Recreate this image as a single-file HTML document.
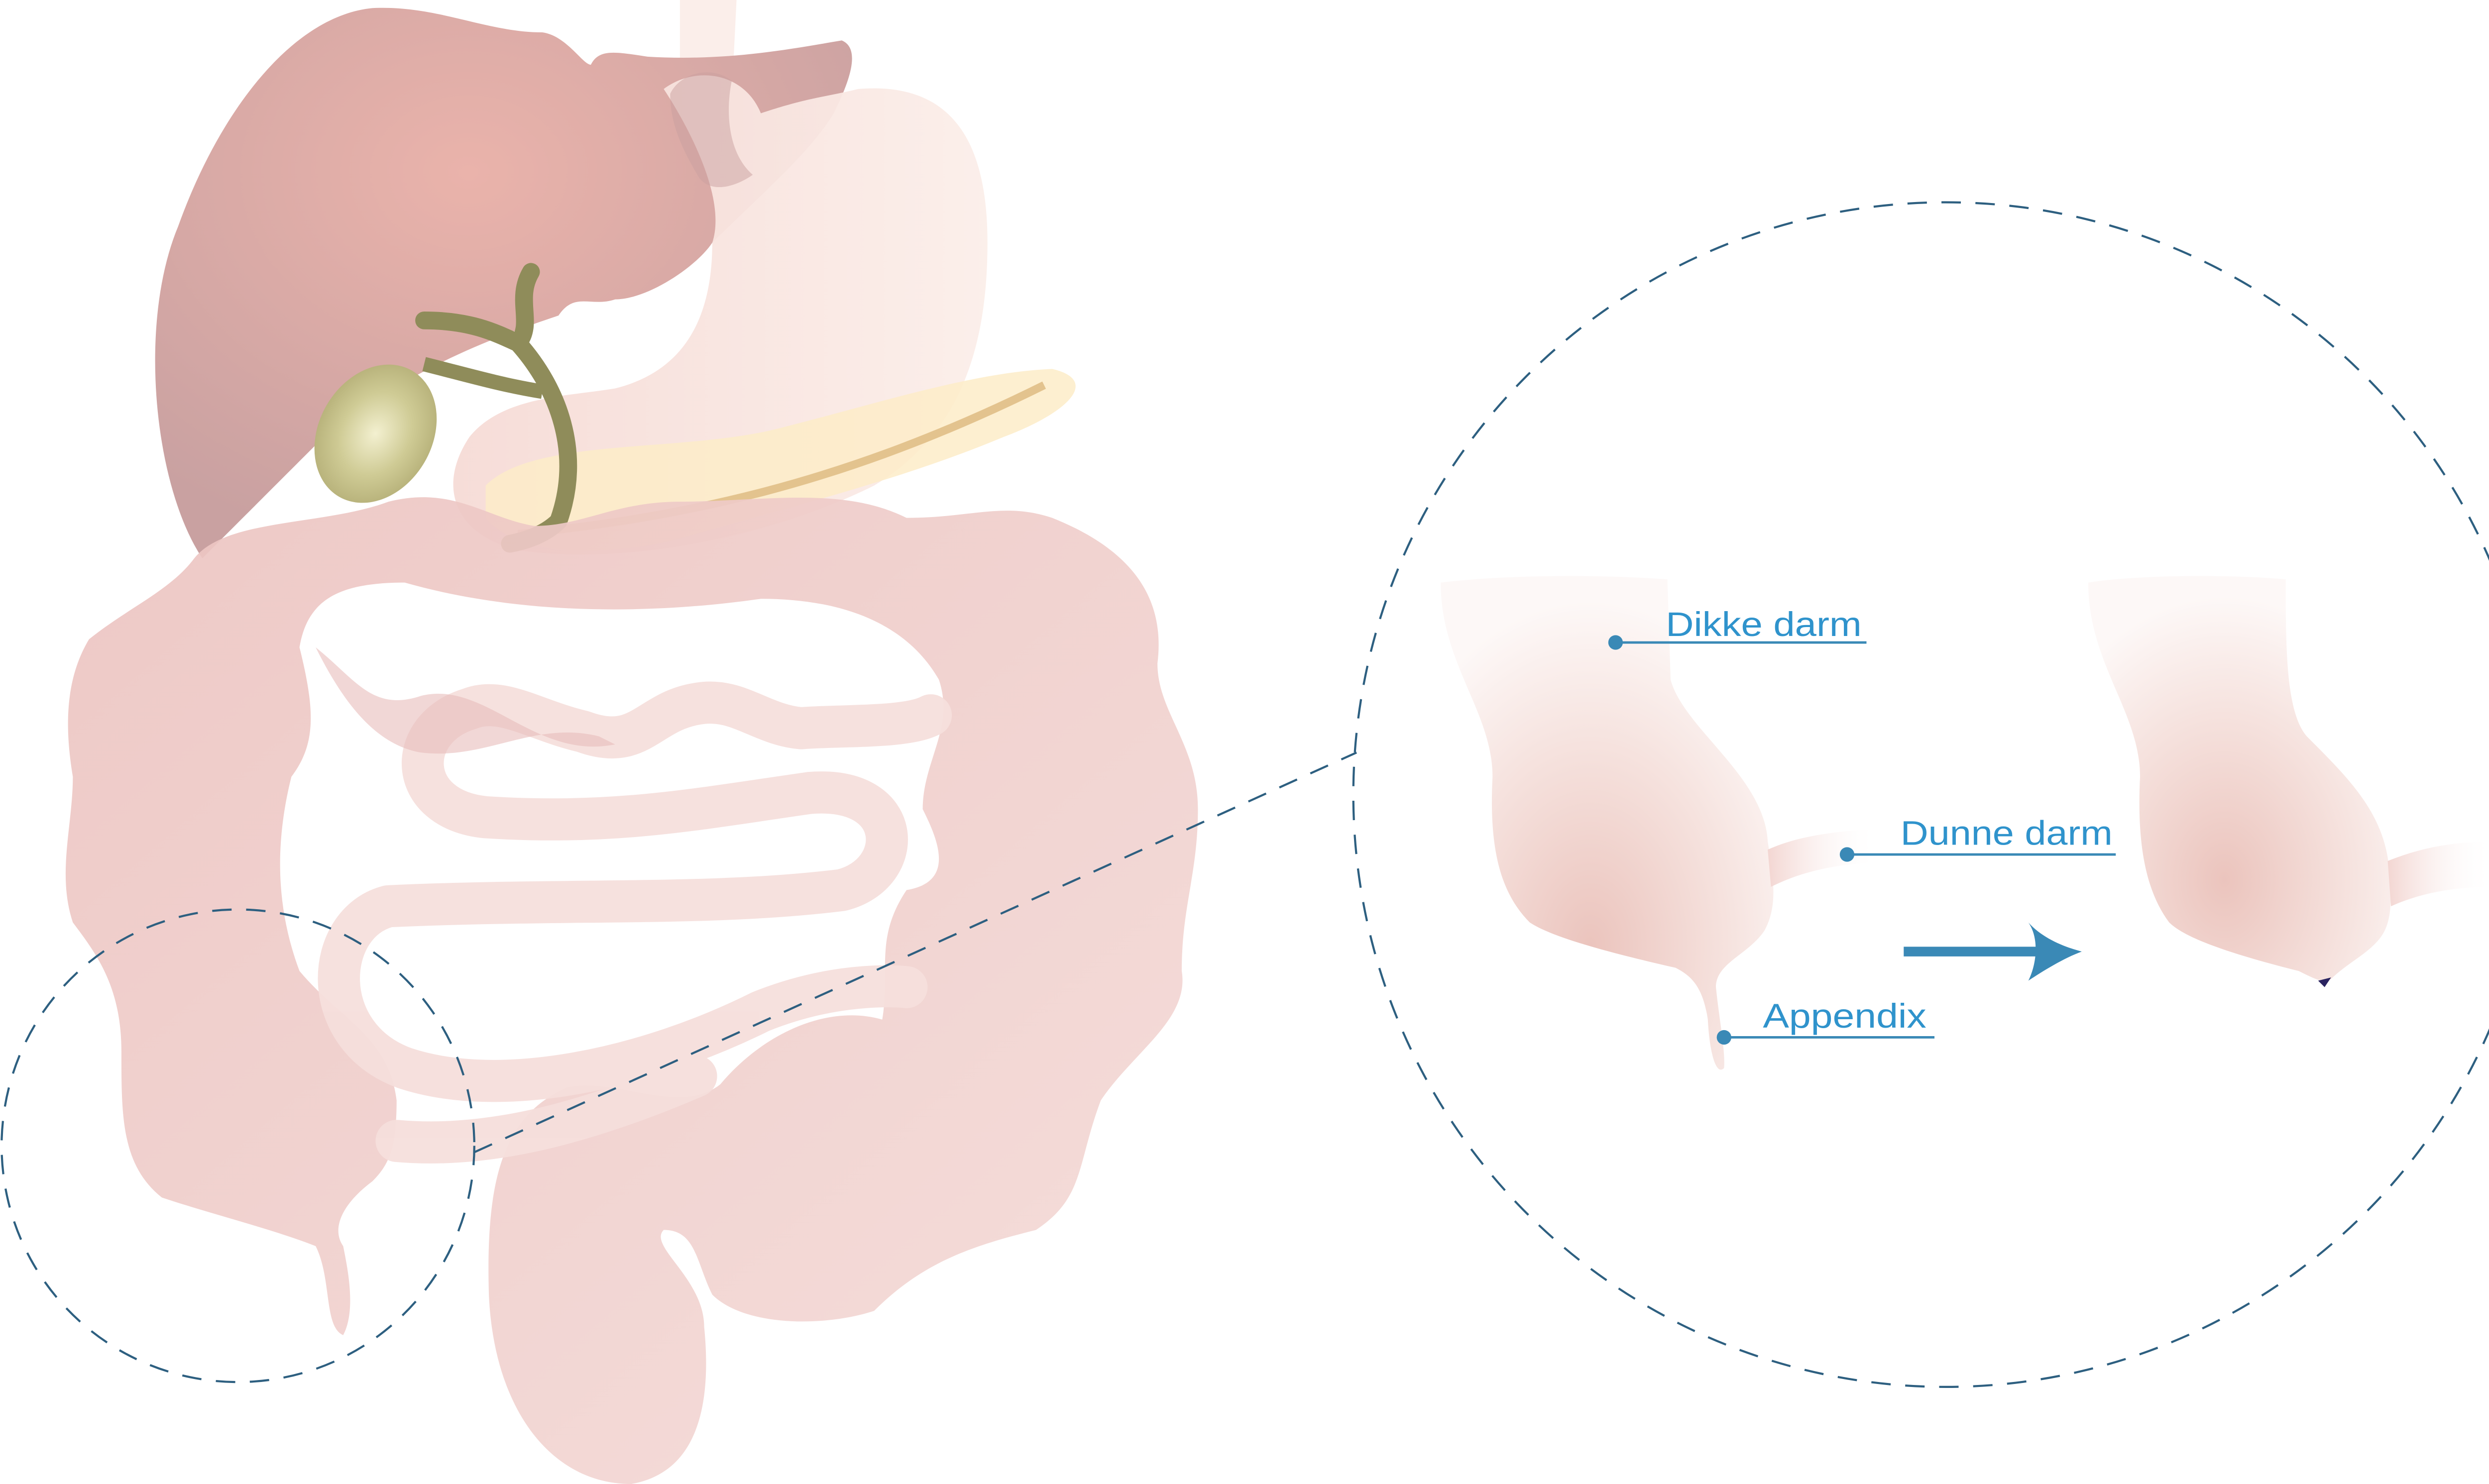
<!DOCTYPE html>
<html><head><meta charset="utf-8"><style>
html,body{margin:0;padding:0;background:#fff;}
svg{display:block;}
text{font-family:"Liberation Sans Narrow","Liberation Sans",sans-serif;fill:#2f93cc;}
</style></head><body>
<svg width="5099" height="2982" viewBox="0 0 1568 917" preserveAspectRatio="none" xmlns="http://www.w3.org/2000/svg">
<defs>
<radialGradient id="liv" cx="0.45" cy="0.3" r="0.7"><stop offset="0" stop-color="#eab3ab"/><stop offset="1" stop-color="#c9a1a1"/></radialGradient>
<radialGradient id="gb" cx="0.5" cy="0.5" r="0.6"><stop offset="0" stop-color="#f3f0d0"/><stop offset="0.5" stop-color="#cfcb95"/><stop offset="1" stop-color="#aea870"/></radialGradient>
<linearGradient id="st" x1="0" y1="0" x2="1" y2="0"><stop offset="0" stop-color="#f6dbd6"/><stop offset="1" stop-color="#fbeee9"/></linearGradient>
<linearGradient id="col" x1="0" y1="0" x2="1" y2="1"><stop offset="0" stop-color="#ecc4c1"/><stop offset="1" stop-color="#f4dbd8"/></linearGradient>
<radialGradient id="cec" cx="0.45" cy="0.75" r="0.7"><stop offset="0" stop-color="#ebc4bd"/><stop offset="0.6" stop-color="#f6e3df"/><stop offset="1" stop-color="#fdf8f7"/></radialGradient>
<linearGradient id="si" x1="0" y1="0" x2="1" y2="0"><stop offset="0" stop-color="#f3d6d2"/><stop offset="1" stop-color="#fff" stop-opacity="0"/></linearGradient>
</defs>

<path d="M420 0 L455 0 L452 60 L420 60 Z" fill="#fbeeea"/>
<path d="M125 345 C95 300 85 200 110 140 C135 70 180 10 230 5 C270 3 300 20 335 20 C350 22 360 40 365 40 C370 30 380 32 400 35 C450 38 490 30 520 25 C532 30 525 50 515 70 C500 95 470 120 440 150 C430 165 400 185 380 185 C365 190 355 180 345 195 C300 210 250 230 200 270 C170 300 140 330 125 345 Z" fill="url(#liv)"/>
<path d="M440 150 C450 120 420 70 410 55 C430 40 460 45 470 70 C500 60 510 60 530 55 C590 50 610 90 610 150 C610 220 590 270 540 300 C480 330 390 350 320 340 C280 330 270 300 290 270 C310 245 350 245 380 240 C420 230 440 200 440 150 Z" fill="url(#st)" opacity="0.95"/>
<path d="M414 58 C420 45 440 40 452 50 C448 70 450 95 465 108 C455 115 440 120 432 110 C420 90 414 75 414 58 Z" fill="#c9a0a0" opacity="0.5"/>
<path d="M300 300 C330 270 420 280 480 265 C540 250 600 230 650 228 C680 235 660 255 620 270 C560 295 500 310 430 330 C380 345 320 345 300 320 Z" fill="#fdecc8" opacity="0.85"/>
<path d="M320 330 C420 320 520 300 645 238" fill="none" stroke="#e3c38e" stroke-width="5"/>
<path d="M262 198 C290 198 305 205 320 212 C330 200 318 185 328 168 M320 212 C345 240 360 280 345 322 C335 332 320 335 315 336" fill="none" stroke="#8f8c5a" stroke-width="11" stroke-linecap="round"/>
<path d="M262 225 C290 232 310 238 335 242" fill="none" stroke="#8f8c5a" stroke-width="9"/>
<ellipse cx="232" cy="268" rx="35" ry="45" transform="rotate(30 232 268)" fill="url(#gb)"/>

<path d="M120 345 C140 320 200 325 240 310 C280 300 300 320 330 325 C360 325 380 310 420 310 C470 310 520 300 560 320 C600 320 620 310 650 320 C700 340 720 370 715 410 C715 440 740 460 740 500 C740 540 730 560 730 600 C735 630 700 650 680 680 C665 720 670 740 640 760 C600 770 570 780 540 810 C510 820 460 820 440 800 C430 780 430 760 410 760 C400 770 435 790 435 820 C440 870 430 910 390 917 C340 917 305 870 302 800 C300 730 310 690 350 672 C380 665 420 690 445 670 C470 640 510 620 545 630 C550 600 540 580 560 550 C590 545 580 520 570 500 C570 470 590 450 580 420 C560 385 520 370 470 370 C400 380 320 380 250 360 C210 360 190 370 185 400 C195 440 195 460 180 480 C170 520 170 560 185 600 C210 630 240 640 245 680 C245 710 240 720 230 730 C210 745 205 760 212 770 C215 785 220 810 212 825 C200 820 205 790 195 770 C170 760 130 750 100 740 C75 720 75 690 75 650 C75 610 60 590 45 570 C35 540 45 510 45 480 C40 450 40 420 55 395 C80 375 105 365 120 345 Z" fill="url(#col)" opacity="0.92"/>
<g fill="none" stroke="#f6dfdc" stroke-width="26" stroke-linecap="round" stroke-linejoin="round" opacity="0.95">
<path d="M575 442 C560 450 520 448 495 450 C470 448 455 430 430 435 C400 440 395 465 360 452 C330 445 310 430 290 438 C250 450 250 500 300 505 C380 510 430 500 500 490 C560 485 560 540 520 550 C440 560 350 555 240 560 C200 570 195 640 250 660 C310 680 400 660 470 625 C520 605 560 610 560 610"/>
<path d="M245 705 C300 710 360 695 430 665"/>
</g>
<path d="M195 400 C210 430 230 460 260 465 C300 470 330 445 370 455 L380 460 C330 470 300 420 260 430 C230 440 220 420 195 400 Z" fill="#e8bdbb" opacity="0.6"/>

<g fill="none" stroke="#2d5f80" stroke-width="1.3" stroke-dasharray="12 9">
<circle cx="147" cy="708" r="146"/>
<circle cx="1202" cy="491" r="366"/>
<line x1="293" y1="712" x2="838" y2="465"/>
</g>

<path d="M890 360 C930 355 990 355 1030 358 L1032 420 C1040 450 1090 480 1092 520 C1096 545 1098 560 1090 575 C1080 590 1060 595 1060 610 C1062 630 1066 650 1065 660 C1060 665 1056 650 1055 630 C1052 610 1045 603 1035 598 C1000 590 960 580 945 570 C925 550 920 520 922 480 C922 440 890 410 890 360 Z" fill="url(#cec)"/>
<path d="M1092 525 C1110 517 1130 514 1160 512 L1160 533 C1130 534 1110 540 1094 548 Z" fill="url(#si)"/>
<path d="M1290 360 C1320 355 1380 355 1412 358 C1412 400 1412 440 1425 455 C1450 480 1470 500 1475 530 C1478 555 1478 570 1470 580 C1462 590 1450 595 1440 605 C1436 608 1430 605 1420 600 C1380 590 1350 580 1340 570 C1325 550 1320 520 1322 480 C1322 440 1290 410 1290 360 Z" fill="url(#cec)"/>
<path d="M1475 532 C1495 524 1515 520 1540 520 L1540 548 C1515 548 1495 552 1477 560 Z" fill="url(#si)"/>
<path d="M1432 606 L1440 604 L1436 610 Z" fill="#2a2460"/>

<rect x="1176" y="585" width="86" height="6" fill="#3a89b6"/>
<path d="M1253 570 C1262 580 1275 585 1286 588 C1275 592 1262 600 1253 606 C1258 596 1260 580 1253 570 Z" fill="#3a89b6"/>

<g stroke="#3a89b6" stroke-width="1.5">
<line x1="998" y1="397" x2="1153" y2="397"/>
<line x1="1141" y1="528" x2="1307" y2="528"/>
<line x1="1065" y1="641" x2="1195" y2="641"/>
</g>
<g fill="#3a89b6">
<circle cx="998" cy="397" r="4.5"/>
<circle cx="1141" cy="528" r="4.5"/>
<circle cx="1065" cy="641" r="4.5"/>
</g>
<text x="1029" y="393" font-size="21" textLength="121" lengthAdjust="spacingAndGlyphs">Dikke darm</text>
<text x="1174" y="522" font-size="21" textLength="131" lengthAdjust="spacingAndGlyphs">Dunne darm</text>
<text x="1089" y="635" font-size="21" textLength="101" lengthAdjust="spacingAndGlyphs">Appendix</text>
</svg>
</body></html>
